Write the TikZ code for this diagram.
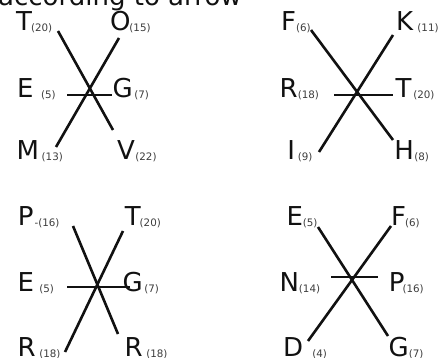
\documentclass[tikz,border=0pt]{standalone}
\usepackage{fontspec}
\setmainfont{DejaVu Sans}
\usetikzlibrary{positioning}
\definecolor{ink}{HTML}{111111}
\definecolor{subgray}{HTML}{3C3C3C}
\newcommand\sub[2][0pt]{\hspace{#1}\raisebox{-1pt}{\fontsize{10.3}{10}\selectfont\color{subgray}#2}}
\tikzset{
  ltr/.style={anchor=base west,inner sep=0pt,text=ink,font=\fontsize{26}{26}\selectfont},
  bar/.style={draw=ink,line width=2.6pt},
}

\begin{document}
\begin{tikzpicture}[x=1pt,y=-1pt]
\useasboundingbox (0,0) rectangle (442,358);
\node[ltr] (head) at (-2,5.5) {according to arrow};
% top left
\node[ltr] (T1) at (16,31) {T\sub[-1pt]{(20)}};
\node[ltr] (O1) at (109.8,31) {O\sub[-1pt]{(15)}};
\node[ltr] (E1) at (16.8,98) {E\sub[7.7pt]{(5)}};
\node[ltr] (G1) at (112.4,98) {G\sub[1.6pt]{(7)}};
\node[ltr] (M1) at (16.3,160) {M\sub[2.8pt]{(13)}};
\node[ltr] (V1) at (116.9,160) {V\sub[0.5pt]{(22)}};
\coordinate (a1) at (58,31);  \coordinate (a2) at (113,130);
\coordinate (b1) at (119,38); \coordinate (b2) at (56,147);
\coordinate (h1) at (67,95);  \coordinate (h2) at (112,95);
\draw[bar] (a1) -- (a2);
\draw[bar] (b1) -- (b2);
\draw[bar] (h1) -- (h2);
% top right
\node[ltr] (F2) at (281,31) {F\sub{(6)}};
\node[ltr] (K2) at (396,31) {K\sub[4.2pt]{(11)}};
\node[ltr] (R2) at (279.5,98) {R\sub{(18)}};
\node[ltr] (T2) at (395.5,98) {T\sub[1.7pt]{(20)}};
\node[ltr] (I2) at (287.2,160) {I\sub[2.7pt]{(9)}};
\node[ltr] (H2) at (394.2,160) {H\sub[0.4pt]{(8)}};
\coordinate (c1) at (311,30);  \coordinate (c2) at (393,140);
\coordinate (d1) at (393,35);  \coordinate (d2) at (319,152);
\coordinate (k1) at (334,95);  \coordinate (k2) at (393,95);
\draw[bar] (c1) -- (c2);
\draw[bar] (d1) -- (d2);
\draw[bar] (k1) -- (k2);
% bottom left
\node[ltr] (P3) at (17.7,226) {P\sub[1pt]{-(16)}};
\node[ltr] (T3) at (124.6,226) {T\sub[-1pt]{(20)}};
\node[ltr] (E3) at (17.3,291) {E\sub[5.5pt]{(5)}};
\node[ltr] (G3) at (122.4,291) {G\sub[1.6pt]{(7)}};
\node[ltr] (R3) at (17.5,356) {R\sub[3.6pt]{(18)}};
\node[ltr] (S3) at (124.5,356) {R\sub[3.6pt]{(18)}};
\coordinate (e1) at (73,226);  \coordinate (e2) at (118,334);
\coordinate (f1) at (123,231); \coordinate (f2) at (65,352);
\coordinate (m1) at (67,287);  \coordinate (m2) at (130,287);
\draw[bar] (e1) -- (e2);
\draw[bar] (f1) -- (f2);
\draw[bar] (m1) -- (m2);
% bottom right
\node[ltr] (E4) at (286.3,226) {E\sub{(5)}};
\node[ltr] (F4) at (391,226) {F\sub[-1pt]{(6)}};
\node[ltr] (N4) at (279.3,291) {N\sub{(14)}};
\node[ltr] (P4) at (388.7,291) {P\sub[-2pt]{(16)}};
\node[ltr] (D4) at (283,356) {D\sub[9.2pt]{(4)}};
\node[ltr] (G4) at (388.4,356) {G\sub{(7)}};
\coordinate (g1) at (318,227); \coordinate (g2) at (388,336);
\coordinate (j1) at (391,226); \coordinate (j2) at (308,341);
\coordinate (n1) at (331,277); \coordinate (n2) at (378,277);
\draw[bar] (g1) -- (g2);
\draw[bar] (j1) -- (j2);
\draw[bar] (n1) -- (n2);
\end{tikzpicture}
\end{document}
